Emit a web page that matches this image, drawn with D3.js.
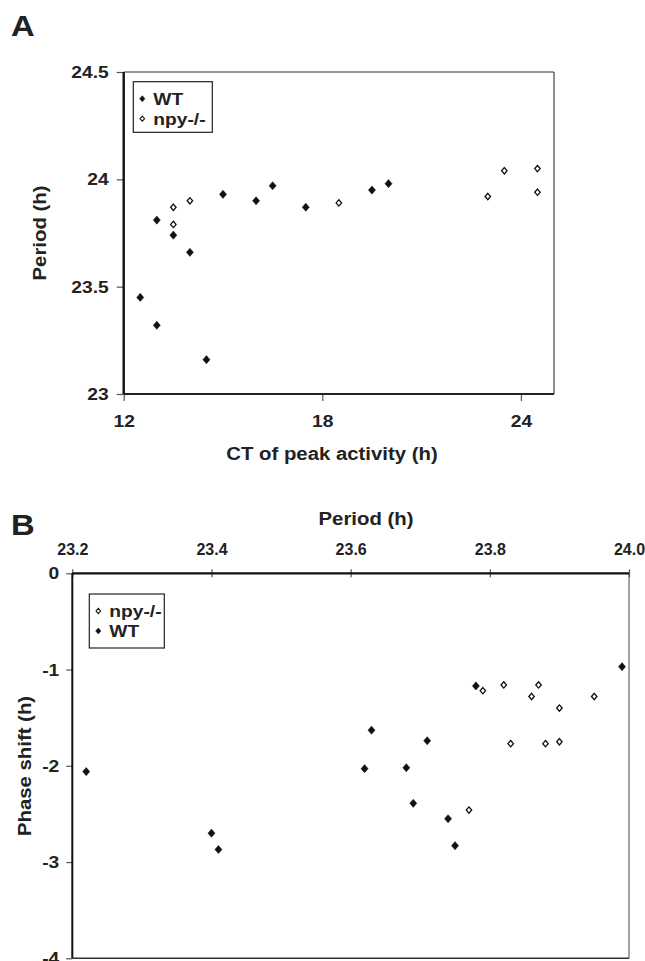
<!DOCTYPE html>
<html>
<head>
<meta charset="utf-8">
<script src="https://cdn.jsdelivr.net/npm/d3@7"></script>
<style>
  body { margin: 0; background: #fff; }
  text { font-family: "Liberation Sans", Arial, sans-serif; font-weight: bold; fill: #222; }
</style>
</head>
<body>
<svg id="chart" width="645" height="961"></svg>
<script>
// Panel A: period vs CT of peak activity
const wtCT = [12.5, 13.0, 13.0, 13.5, 14.0, 14.5, 15.0, 16.0, 16.5, 17.5, 19.5, 20.0];
const wtPeriodA = [23.45, 23.81, 23.32, 23.74, 23.66, 23.16, 23.93, 23.90, 23.97, 23.87, 23.95, 23.98];
const npyCT = [13.5, 13.5, 14.0, 18.5, 23.0, 23.5, 24.5, 24.5];
const npyPeriodA = [23.87, 23.79, 23.90, 23.89, 23.92, 24.04, 24.05, 23.94];
const xTicksA = [12, 18, 24];
const yTicksA = [23, 23.5, 24, 24.5];

// Panel B: phase shift vs period
const wtPeriodB = [23.22, 23.40, 23.41, 23.62, 23.63, 23.68, 23.69, 23.71, 23.74, 23.75, 23.78, 23.99];
const wtShift = [-2.06, -2.70, -2.87, -2.03, -1.63, -2.02, -2.39, -1.74, -2.55, -2.83, -1.17, -0.97];
const npyPeriodB = [23.77, 23.79, 23.82, 23.83, 23.86, 23.87, 23.88, 23.90, 23.90, 23.95];
const npyShift = [-2.46, -1.22, -1.16, -1.77, -1.28, -1.16, -1.77, -1.40, -1.75, -1.28];
const xTicksB = [23.2, 23.4, 23.6, 23.8, 24.0];
const yTicksB = [0, -1, -2, -3, -4];

const svg = d3.select("#chart");

// diamond marker, slightly taller than wide
const diamond = {
    draw(ctx, size) {
        const r = Math.sqrt(size) / 2;
        ctx.moveTo(0, -r * 1.15);
        ctx.lineTo(r, 0);
        ctx.lineTo(0, r * 1.15);
        ctx.lineTo(-r, 0);
        ctx.closePath();
    }
};
const filledSym = d3.symbol().type(diamond).size(50)();
const openSym = d3.symbol().type(diamond).size(30)();

function drawPoints(g, xs, ys, x, y, open) {
    g.append("g").selectAll("path")
        .data(xs.map((d, i) => [d, ys[i]]))
        .enter()
        .append("path")
        .attr("transform", d => `translate(${x(d[0])},${y(d[1])})`)
        .attr("d", open ? openSym : filledSym)
        .attr("fill", open ? "#fff" : "#111")
        .attr("stroke", "#111")
        .attr("stroke-width", open ? 1.3 : 0.5);
}

function styleAxis(sel) {
    sel.select(".domain").remove();
    sel.selectAll(".tick line").attr("stroke", "#555").attr("stroke-width", 1.2);
    sel.selectAll(".tick text").style("font-size", "17px").attr("fill", "#222");
}

function legend(x0, y0, w, h, items) {
    const lg = svg.append("g").attr("transform", `translate(${x0},${y0})`);
    lg.append("rect").attr("width", w).attr("height", h)
        .attr("fill", "#fff").attr("stroke", "#222").attr("stroke-width", 1.2);
    items.forEach((it, i) => {
        const yy = 17 + i * 20;
        lg.append("path")
            .attr("transform", `translate(9,${yy})`)
            .attr("d", d3.symbol().type(diamond).size(it.open ? 20 : 28)())
            .attr("fill", it.open ? "#fff" : "#111")
            .attr("stroke", "#111").attr("stroke-width", it.open ? 1.1 : 0.5);
        lg.append("text").attr("x", 20).attr("y", yy + 6)
            .style("font-size", "17px").text(it.name);
    });
}

// ---------- Panel A ----------
const xA = d3.scaleLinear().domain([12, 25]).range([123.7, 554]);
const yA = d3.scaleLinear().domain([23, 24.5]).range([394, 72]);

svg.append("text").attr("x", 11).attr("y", 36).style("font-size", "29px").text("A");

const gA = svg.append("g");
// frame
gA.append("line").attr("x1", xA(12)).attr("x2", xA(25)).attr("y1", yA(24.5)).attr("y2", yA(24.5))
    .attr("stroke", "#777").attr("stroke-width", 1.5);
gA.append("line").attr("x1", xA(25)).attr("x2", xA(25)).attr("y1", yA(24.5)).attr("y2", yA(23))
    .attr("stroke", "#444").attr("stroke-width", 1.2);

gA.append("g").attr("transform", `translate(0,${yA(23)})`)
    .call(d3.axisBottom(xA).tickValues(xTicksA).tickSize(7).tickPadding(14).tickFormat(d => String(d)))
    .call(styleAxis);
gA.append("g").attr("transform", `translate(${xA(12)},0)`)
    .call(d3.axisLeft(yA).tickValues(yTicksA).tickSize(7).tickPadding(8).tickFormat(d => String(d)))
    .call(styleAxis);

gA.append("line").attr("x1", xA(12)).attr("x2", xA(25)).attr("y1", yA(23)).attr("y2", yA(23))
    .attr("stroke", "#222").attr("stroke-width", 1.8);
gA.append("line").attr("x1", xA(12)).attr("x2", xA(12)).attr("y1", yA(24.5)).attr("y2", yA(23))
    .attr("stroke", "#111").attr("stroke-width", 2.4);

drawPoints(gA, wtCT, wtPeriodA, xA, yA, false);
drawPoints(gA, npyCT, npyPeriodA, xA, yA, true);

svg.append("text").attr("x", 332).attr("y", 460).attr("text-anchor", "middle")
    .style("font-size", "18px").text("CT of peak activity (h)");
svg.append("text").attr("transform", `translate(46,233) rotate(-90)`).attr("text-anchor", "middle")
    .style("font-size", "18px").text("Period (h)");

legend(133.3, 81.7, 79, 50.6, [{ name: "WT", open: false }, { name: "npy-/-", open: true }]);

// ---------- Panel B ----------
const xB = d3.scaleLinear().domain([23.2, 24.0]).range([72.3, 629]);
const yB = d3.scaleLinear().domain([-4, 0]).range([958.3, 573.3]);

svg.append("text").attr("x", 11).attr("y", 535).style("font-size", "29px").text("B");

const gB = svg.append("g");
gB.append("line").attr("x1", xB(24)).attr("x2", xB(24)).attr("y1", yB(0)).attr("y2", yB(-4))
    .attr("stroke", "#666").attr("stroke-width", 1.2);
gB.append("line").attr("x1", xB(23.2)).attr("x2", xB(24)).attr("y1", yB(-4)).attr("y2", yB(-4))
    .attr("stroke", "#333").attr("stroke-width", 1.5);

const axTopB = gB.append("g").attr("transform", `translate(0,${yB(0)})`)
    .call(d3.axisTop(xB).tickValues(xTicksB).tickSize(4).tickPadding(14).tickFormat(d3.format(".1f")))
    .call(styleAxis);
axTopB.selectAll(".tick line").attr("y1", 4).attr("y2", -4);
// these labels are set narrower in the print
axTopB.selectAll(".tick text").style("font-size", "16px").classed("plain", true);

gB.append("g").attr("transform", `translate(${xB(23.2)},0)`)
    .call(d3.axisLeft(yB).tickValues(yTicksB).tickSize(6).tickPadding(7).tickFormat(d => String(d)))
    .call(styleAxis);

gB.append("line").attr("x1", xB(23.2)).attr("x2", xB(24)).attr("y1", yB(0)).attr("y2", yB(0))
    .attr("stroke", "#111").attr("stroke-width", 2.2);
gB.append("line").attr("x1", xB(23.2)).attr("x2", xB(23.2)).attr("y1", yB(0)).attr("y2", yB(-4))
    .attr("stroke", "#111").attr("stroke-width", 2);

drawPoints(gB, wtPeriodB, wtShift, xB, yB, false);
drawPoints(gB, npyPeriodB, npyShift, xB, yB, true);

svg.append("text").attr("x", 366).attr("y", 525).attr("text-anchor", "middle")
    .style("font-size", "18px").text("Period (h)");
svg.append("text").attr("transform", `translate(31,766) rotate(-90)`).attr("text-anchor", "middle")
    .style("font-size", "18px").text("Phase shift (h)");

legend(89.3, 594, 75, 54, [{ name: "npy-/-", open: true }, { name: "WT", open: false }]);

// the print is set wider than Arial: stretch most labels a little
svg.selectAll("text:not(.plain)").each(function() {
    const len = this.getComputedTextLength();
    d3.select(this).attr("textLength", len * 1.13).attr("lengthAdjust", "spacingAndGlyphs");
});
</script>
</body>
</html>
